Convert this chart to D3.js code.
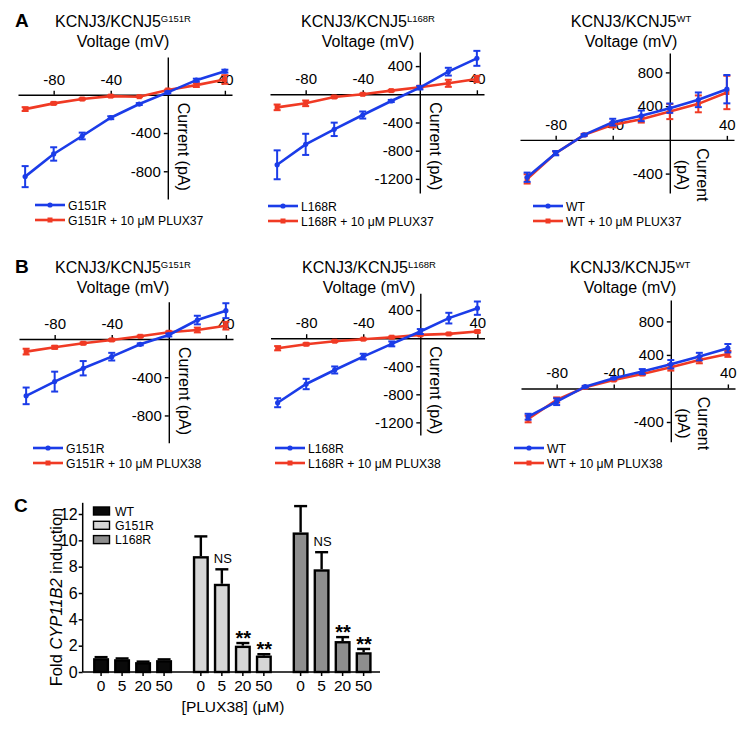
<!DOCTYPE html>
<html>
<head>
<meta charset="utf-8">
<script src="https://cdn.jsdelivr.net/npm/d3@7"></script>
<style>
  body { margin: 0; background: #fff; }
  svg { font-family: "Liberation Sans", Arial, Helvetica, sans-serif; }
</style>
</head>
<body>
<svg id="chart" width="748" height="732"></svg>
<script>
// ---- data ----
var voltages = [-100, -80, -60, -40, -20, 0, 20, 40];

// A: PLUX37
var aG151R = [-856, -619, -431, -240, -97, 25, 153, 247];
var aG151RErr = [110, 70, 35, 15, 10, 10, 15, 15];
var aG151RPlux = [-150, -90, -45, -14, -20, 50, 101, 160];
var aG151RPluxErr = [20, 10, 8, 8, 5, 5, 20, 45];

var aL168R = [-1000, -710, -497, -294, -95, 94, 321, 510];
var aL168RErr = [205, 150, 95, 50, 15, 25, 55, 106];
var aL168RPlux = [-185, -128, -38, 0, 52, 99, 156, 217];
var aL168RPluxErr = [40, 40, 15, 10, 10, 20, 50, 45];

var aWT = [-443, -158, 59, 210, 285, 376, 475, 601];
var aWTErr = [55, 25, 10, 40, 63, 55, 87, 168];
var aWTPlux = [-463, -158, 59, 178, 245, 336, 427, 562];
var aWTPluxErr = [55, 20, 10, 30, 40, 90, 100, 198];

// B: PLUX38
var bG151R = [-595, -446, -306, -185, -56, 42, 198, 296];
var bG151RErr = [87, 104, 75, 40, 10, 15, 45, 78];
var bG151RPlux = [-132, -87, -45, -10, 28, 70, 94, 139];
var bG151RPluxErr = [30, 15, 10, 10, 8, 10, 25, 40];

var bL168R = [-920, -653, -453, -262, -81, 95, 286, 428];
var bL168RErr = [64, 74, 50, 40, 35, 35, 76, 95];
var bL168RPlux = [-143, -86, -43, -14, 14, 47, 61, 95];
var bL168RPluxErr = [30, 15, 10, 10, 10, 10, 10, 15];

var bWT = [-337, -158, 21, 122, 201, 289, 380, 480];
var bWTErr = [35, 40, 10, 10, 30, 50, 45, 50];
var bWTPlux = [-364, -137, 14, 101, 173, 253, 340, 412];
var bWTPluxErr = [40, 30, 10, 10, 15, 40, 40, 35];

// C: CYP11B2 induction
var genotypes = ["WT", "G151R", "L168R"];
var doses = ["0", "5", "20", "50"];
var wtFold = [1.05, 0.97, 0.75, 0.9];
var wtFoldErr = [0.08, 0.06, 0.04, 0.06];
var g151rFold = [8.8, 6.7, 2.0, 1.25];
var g151rFoldErr = [1.5, 1.1, 0.2, 0.1];
var l168rFold = [10.6, 7.8, 2.35, 1.5];
var l168rFoldErr = [2.0, 1.3, 0.3, 0.25];
var g151rSig = ["", "NS", "**", "**"];
var l168rSig = ["", "NS", "**", "**"];

var BLUE = "#1b3ce8";
var RED = "#f03a24";

var svg = d3.select("#chart");

function zip(vals, errs) {
  return voltages.map(function (v, i) { return { v: v, i: vals[i], e: errs[i] }; });
}

// panel letters
svg.append("text").attr("x", 15).attr("y", 27).attr("font-size", 19).attr("font-weight", "bold").text("A");
svg.append("text").attr("x", 15).attr("y", 273).attr("font-size", 19).attr("font-weight", "bold").text("B");
svg.append("text").attr("x", 14).attr("y", 512).attr("font-size", 19).attr("font-weight", "bold").text("C");

function drawIV(p) {
  var g = svg.append("g");
  var x = d3.scaleLinear().domain([-105, 45]).range([p.left, p.left + 214]);
  var y = d3.scaleLinear().domain(p.yDomain).range([p.bottom, p.top]);
  var x0 = x(0), y0 = y(0);

  // title
  var t = g.append("text").attr("x", p.cx).attr("y", p.titleY)
    .attr("text-anchor", "middle").attr("font-size", 16);
  t.append("tspan").text("KCNJ3/KCNJ5");
  t.append("tspan").attr("font-size", 9.5).attr("dy", -5).text(p.sup);
  g.append("text").attr("x", p.cx).attr("y", p.titleY + 20)
    .attr("text-anchor", "middle").attr("font-size", 16).text("Voltage (mV)");

  // x axis
  var xa = g.append("g").attr("transform", "translate(0," + y0 + ")")
    .call(d3.axisTop(x).tickValues([-80, -40, 40]).tickSize(4).tickSizeOuter(0).tickPadding(6)
      .tickFormat(function (d) { return String(d); }));
  xa.attr("font-size", 15).attr("font-family", null);
  xa.selectAll("path,line").attr("stroke", "#000").attr("stroke-width", 1.4);

  // y axis
  var ya = g.append("g").attr("transform", "translate(" + x0 + ",0)")
    .call(d3.axisLeft(y).tickValues(p.yTicks).tickSize(4).tickSizeOuter(0).tickPadding(3)
      .tickFormat(function (d) { return String(d); }));
  ya.attr("font-size", 15).attr("font-family", null);
  ya.selectAll("path,line").attr("stroke", "#000").attr("stroke-width", 1.4);

  // current label
  if (p.twoLine) {
    var ct = g.append("text").attr("font-size", 16).attr("text-anchor", "middle")
      .attr("transform", "translate(" + (x0 + 27) + "," + (y0 + 35) + ") rotate(90)");
    ct.append("tspan").attr("x", 0).attr("y", 0).text("Current");
    ct.append("tspan").attr("x", 0).attr("dy", 20).text("(pA)");
  } else {
    g.append("text").attr("font-size", 16)
      .attr("transform", "translate(" + (x0 + 10) + "," + (y0 + 8) + ") rotate(90)")
      .text("Current (pA)");
  }

  var line = d3.line().x(function (d) { return x(d.v); }).y(function (d) { return y(d.i); });

  [{ d: p.treated, c: RED, sq: true }, { d: p.base, c: BLUE, sq: false }].forEach(function (s) {
    var sg = g.append("g");
    sg.append("path").datum(s.d).attr("d", line).attr("fill", "none")
      .attr("stroke", s.c).attr("stroke-width", 2.6);
    sg.selectAll("line.err").data(s.d).enter().append("line")
      .attr("x1", function (d) { return x(d.v); }).attr("x2", function (d) { return x(d.v); })
      .attr("y1", function (d) { return y(d.i - d.e); }).attr("y2", function (d) { return y(d.i + d.e); })
      .attr("stroke", s.c).attr("stroke-width", 2);
    s.d.forEach(function (d) {
      [d.i - d.e, d.i + d.e].forEach(function (v) {
        sg.append("line").attr("x1", x(d.v) - 3.5).attr("x2", x(d.v) + 3.5)
          .attr("y1", y(v)).attr("y2", y(v)).attr("stroke", s.c).attr("stroke-width", 2);
      });
    });
    if (s.sq) {
      sg.selectAll("rect").data(s.d).enter().append("rect")
        .attr("x", function (d) { return x(d.v) - 2.5; }).attr("y", function (d) { return y(d.i) - 2.5; })
        .attr("width", 5).attr("height", 5).attr("fill", s.c);
    } else {
      sg.selectAll("circle").data(s.d).enter().append("circle")
        .attr("cx", function (d) { return x(d.v); }).attr("cy", function (d) { return y(d.i); })
        .attr("r", 2.6).attr("fill", s.c);
    }
  });

  // legend
  var items = [{ c: BLUE, t: p.baseName, sq: false, y: p.legY }, { c: RED, t: p.baseName + " + 10 \u03BCM " + p.drug, sq: true, y: p.legY + 15 }];
  items.forEach(function (it) {
    g.append("line").attr("x1", p.legX).attr("x2", p.legX + 30).attr("y1", it.y).attr("y2", it.y)
      .attr("stroke", it.c).attr("stroke-width", 2.6);
    if (it.sq) {
      g.append("rect").attr("x", p.legX + 12.5).attr("y", it.y - 2.5).attr("width", 5).attr("height", 5).attr("fill", it.c);
    } else {
      g.append("circle").attr("cx", p.legX + 15).attr("cy", it.y).attr("r", 2.6).attr("fill", it.c);
    }
    g.append("text").attr("x", p.legX + 33).attr("y", it.y + 4.5).attr("font-size", 12.2).text(it.t);
  });
}

var panels = [
  { left: 18, top: 57, bottom: 199, yDomain: [-1090, 395], yTicks: [-800, -400], cx: 123, titleY: 27, sup: "G151R",
    base: zip(aG151R, aG151RErr), treated: zip(aG151RPlux, aG151RPluxErr), baseName: "G151R", drug: "PLUX37", legX: 35, legY: 205 },
  { left: 270, top: 52, bottom: 193, yDomain: [-1400, 600], yTicks: [-1200, -800, -400, 400], cx: 368, titleY: 27, sup: "L168R",
    base: zip(aL168R, aL168RErr), treated: zip(aL168RPlux, aL168RPluxErr), baseName: "L168R", drug: "PLUX37", legX: 268, legY: 206 },
  { left: 520, top: 53, bottom: 193, yDomain: [-630, 1030], yTicks: [-400, 400, 800], cx: 631, titleY: 27, sup: "WT", twoLine: true,
    base: zip(aWT, aWTErr), treated: zip(aWTPlux, aWTPluxErr), baseName: "WT", drug: "PLUX37", legX: 533, legY: 206 },
  { left: 19, top: 301.7, bottom: 442.7, yDomain: [-1085, 390], yTicks: [-800, -400], cx: 123, titleY: 273, sup: "G151R",
    base: zip(bG151R, bG151RErr), treated: zip(bG151RPlux, bG151RPluxErr), baseName: "G151R", drug: "PLUX38", legX: 33, legY: 448 },
  { left: 270.5, top: 293.3, bottom: 435, yDomain: [-1380, 640], yTicks: [-1200, -800, -400, 400], cx: 369, titleY: 273, sup: "L168R",
    base: zip(bL168R, bL168RErr), treated: zip(bL168RPlux, bL168RPluxErr), baseName: "L168R", drug: "PLUX38", legX: 275, legY: 448 },
  { left: 521, top: 300, bottom: 441.7, yDomain: [-635, 1055], yTicks: [-400, 400, 800], cx: 630, titleY: 273, sup: "WT", twoLine: true,
    base: zip(bWT, bWTErr), treated: zip(bWTPlux, bWTPluxErr), baseName: "WT", drug: "PLUX38", legX: 514, legY: 448 }
];
panels.forEach(drawIV);

// ---- panel C ----
var cg = svg.append("g");
var yC = d3.scaleLinear().domain([0, 12]).range([672, 514]);
var xGroup = d3.scaleBand().domain(genotypes).range([82.7, 382]);
var xDose = d3.scaleBand().domain(doses).range([0, 84]).paddingInner(0.238).paddingOuter(0.119);
var fills = { WT: "#0a0a0a", G151R: "#d6d6d6", L168R: "#8e8e8e" };
var series = {
  WT: { v: wtFold, e: wtFoldErr, s: ["", "", "", ""] },
  G151R: { v: g151rFold, e: g151rFoldErr, s: g151rSig },
  L168R: { v: l168rFold, e: l168rFoldErr, s: l168rSig }
};

var yaC = cg.append("g").attr("transform", "translate(82.7,0)")
  .call(d3.axisLeft(yC).tickValues([0, 2, 4, 6, 8, 10, 12]).tickSize(4).tickPadding(1).tickSizeOuter(0));
yaC.attr("font-size", 16).attr("font-family", null);
yaC.select(".domain").attr("d", "M0," + yC(12.85) + "V" + yC(0));
yaC.selectAll("path,line").attr("stroke", "#000").attr("stroke-width", 1.5);

genotypes.forEach(function (gname) {
  var off = xGroup(gname) + (xGroup.bandwidth() - 84) / 2;
  var gg = cg.append("g").attr("transform", "translate(" + off + ",0)");
  var s = series[gname];
  var rows = doses.map(function (d, i) { return { dose: d, v: s.v[i], e: s.e[i], sig: s.s[i] }; });

  // error bars (up only)
  rows.forEach(function (r) {
    var cx = xDose(r.dose) + xDose.bandwidth() / 2;
    gg.append("line").attr("x1", cx).attr("x2", cx).attr("y1", yC(r.v)).attr("y2", yC(r.v + r.e))
      .attr("stroke", "#000").attr("stroke-width", 2.4);
    gg.append("line").attr("x1", cx - 6.5).attr("x2", cx + 6.5).attr("y1", yC(r.v + r.e)).attr("y2", yC(r.v + r.e))
      .attr("stroke", "#000").attr("stroke-width", 2.4);
  });

  gg.selectAll("rect").data(rows).enter().append("rect")
    .attr("x", function (r) { return xDose(r.dose) + 1.2; })
    .attr("y", function (r) { return yC(r.v) + 1.2; })
    .attr("width", xDose.bandwidth() - 2.4)
    .attr("height", function (r) { return yC(0) - yC(r.v) - 1.2; })
    .attr("fill", fills[gname]).attr("stroke", "#000").attr("stroke-width", 2.4);

  rows.forEach(function (r) {
    if (!r.sig) return;
    var cx = xDose(r.dose) + xDose.bandwidth() / 2;
    var top = yC(r.v + r.e);
    if (r.sig === "NS") {
      gg.append("text").attr("x", cx + 1).attr("y", top - 6).attr("text-anchor", "middle")
        .attr("font-size", 13).text("NS");
    } else {
      gg.append("text").attr("x", cx + 0.5).attr("y", top + 2).attr("text-anchor", "middle")
        .attr("font-size", 20).attr("font-weight", "bold").text(r.sig);
    }
  });

  var xa = gg.append("g").attr("transform", "translate(0,672)")
    .call(d3.axisBottom(xDose).tickSize(4).tickPadding(3.5).tickSizeOuter(0));
  xa.attr("font-size", 15.5).attr("font-family", null);
  xa.select(".domain").remove();
  xa.selectAll("line").attr("stroke", "#000").attr("stroke-width", 1.5);
});

cg.append("line").attr("x1", xGroup.range()[0]).attr("x2", xGroup.range()[1] - 2)
  .attr("y1", yC(0)).attr("y2", yC(0)).attr("stroke", "#000").attr("stroke-width", 1.5);

// C legend
genotypes.forEach(function (gname, i) {
  var ly = 507 + i * 14.3;
  cg.append("rect").attr("x", 93.5).attr("y", ly).attr("width", 16).attr("height", 8)
    .attr("fill", fills[gname]).attr("stroke", "#000").attr("stroke-width", 1.4);
  cg.append("text").attr("x", 115).attr("y", ly + 8.5).attr("font-size", 12.3).text(gname);
});

// C axis titles
cg.append("text").attr("x", 233).attr("y", 711.5).attr("text-anchor", "middle").attr("font-size", 15.5)
  .text("[PLUX38] (\u03BCM)");
var yt = cg.append("text").attr("text-anchor", "middle").attr("font-size", 16.5)
  .attr("transform", "translate(62,597) rotate(-90)");
yt.append("tspan").text("Fold ");
yt.append("tspan").attr("font-style", "italic").text("CYP11B2");
yt.append("tspan").text(" induction");
</script>
</body>
</html>
